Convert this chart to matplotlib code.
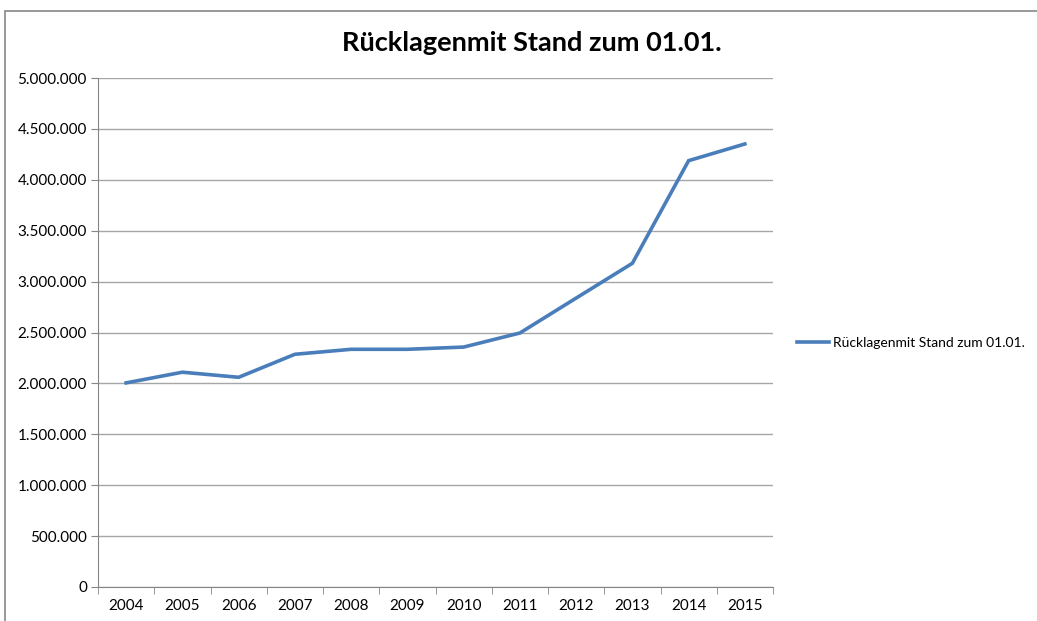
import matplotlib
matplotlib.use("Agg")
import matplotlib.pyplot as plt
from matplotlib.ticker import FuncFormatter, MultipleLocator, FixedLocator
from matplotlib.patches import Rectangle

# data
years = ["2004", "2005", "2006", "2007", "2008", "2009",
         "2010", "2011", "2012", "2013", "2014", "2015"]
ruecklagen = [2005000, 2110000, 2060000, 2286000, 2335000, 2335000,
              2357000, 2495000, 2838000, 3180000, 4188000, 4352000]
series_name = "Rücklagenmit Stand zum 01.01."

plt.rcParams["font.family"] = ["Lato", "DejaVu Sans"]

W, H = 1037, 621
fig = plt.figure(figsize=(W / 100, H / 100), dpi=100)

# chart area frame (cut off at right and bottom)
fig.patches.append(Rectangle((5 / W, -0.5), 2, 1.5 - 11 / H, transform=fig.transFigure,
                             fill=False, edgecolor="#868686", linewidth=1.2))

ax = fig.add_axes([98 / W, 34 / H, (773 - 98) / W, (587 - 78) / H])
x = list(range(len(years)))
ax.plot(x, ruecklagen, color="#4a7ebb", linewidth=2.6, label=series_name,
        solid_joinstyle="miter")

ax.set_xlim(-0.5, len(years) - 0.5)
ax.set_ylim(0, 5000000)
ax.yaxis.set_major_locator(MultipleLocator(500000))
ax.yaxis.set_major_formatter(FuncFormatter(lambda v, p: f"{int(v):,}".replace(",", ".")))
ax.set_xticks(x)
ax.set_xticklabels(years)
ax.xaxis.set_minor_locator(FixedLocator([i - 0.5 for i in range(len(years) + 1)]))
ax.tick_params(axis="x", which="major", length=0, pad=9, labelsize=11)
ax.tick_params(axis="x", which="minor", length=5, color="#868686", direction="out")
ax.tick_params(axis="y", length=5, color="#868686", direction="out", labelsize=11, pad=3)

ax.grid(axis="y", color="#a6a6a6", linewidth=1)
ax.set_axisbelow(True)
for s in ("top", "right"):
    ax.spines[s].set_visible(False)
for s in ("left", "bottom"):
    ax.spines[s].set_color("#868686")

fig.text(532 / W, 1 - 43 / H, series_name, ha="center", va="center",
         fontsize=19.5, fontweight="bold")

ax.legend(loc="center left", bbox_to_anchor=(797 / W, 1 - 343 / H),
          bbox_transform=fig.transFigure, frameon=False, fontsize=10,
          handlelength=2.3, handletextpad=0.3, borderpad=0, borderaxespad=0)

fig.savefig("out.png", dpi=100)
